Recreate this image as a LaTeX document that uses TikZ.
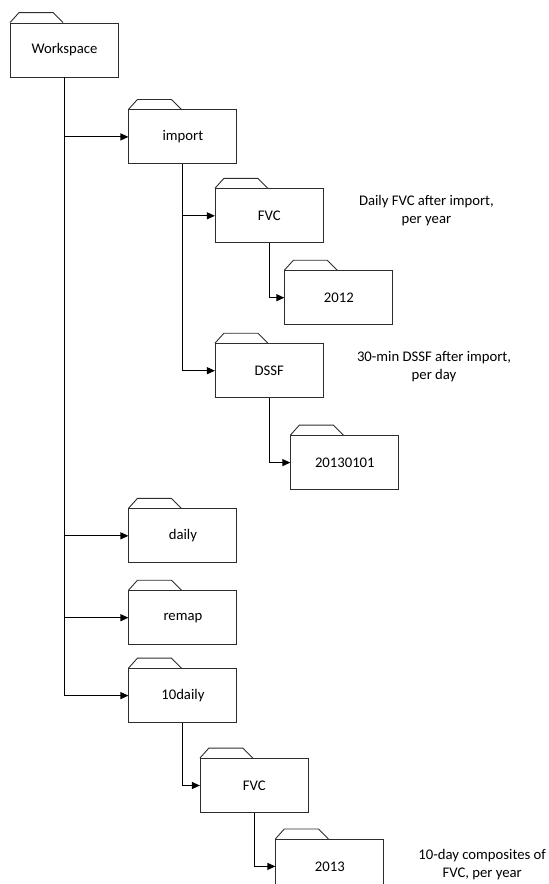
\documentclass[tikz,border=0pt]{standalone}
\usepackage{fontspec}
\setmainfont{Carlito}
\usepackage{tikz}
\usetikzlibrary{arrows.meta, positioning}
\definecolor{boxgray}{RGB}{45,45,45}

\begin{document}
\begin{tikzpicture}[
    x=1pt, y=1pt,
    folder/.style = {draw=boxgray, line width=0.9pt, rectangle,
                     minimum width=108pt, minimum height=54pt, inner sep=0pt,
                     font=\fontsize{14.7}{18}\selectfont},
    tab/.style    = {draw=boxgray, line width=0.9pt, line join=miter},
    note/.style   = {align=center, inner sep=0pt,
                     font=\fontsize{14.7}{18}\selectfont},
    arrow/.style  = {-{Triangle[length=8pt, width=7pt]}, line width=1.1pt, color=black}
  ]
  \useasboundingbox (0,0) rectangle (549,-884);

  \node[folder] (workspace) at (64.5,-50) {Workspace};
  \node[folder, below right=32pt and 9.5pt of workspace] (import) {import};
  \node[folder, below right=24pt and 32pt of import.south] (fvc) {FVC};
  \node[folder, below right=27pt and 15pt of fvc.south] (yr2012) {2012};
  \node[folder, below=100pt of fvc] (dssf) {DSSF};
  \node[folder, below right=37pt and 21pt of dssf.south] (day0101) {20130101};
  \node[folder, below=344pt of import] (daily) {daily};
  \node[folder, below=27pt of daily] (remap) {remap};
  \node[folder, below=23pt of remap] (tendaily) {10daily};
  \node[folder, below right=35pt and 17pt of tendaily.south] (fvcten) {FVC};
  \node[folder, below right=26pt and 21pt of fvcten.south] (yr2013) {2013};

  \node[note, right=35pt of fvc, yshift=5pt] (fvcnote)
                              {Daily FVC after import,\\per year};
  \node[note, right=33pt of dssf, yshift=4pt] (dssfnote)
                              {30-min DSSF after import,\\per day};
  \node[note, right=34pt of yr2013, yshift=2pt] (tennote)
                              {10-day composites of\\FVC, per year};

  \foreach \f in {workspace, import, fvc, yr2012, dssf, day0101,
                  daily, remap, tendaily, fvcten, yr2013}
    \draw[tab] (\f.north west) -- ++(9,10) -- ++(34,0) -- ++(10,-10);

  \draw[arrow] (workspace) |- (import);
  \draw[arrow] (workspace) |- (daily);
  \draw[arrow] (workspace) |- (remap);
  \draw[arrow] (workspace) |- (tendaily);
  \draw[arrow] (import)    |- (fvc);
  \draw[arrow] (import)    |- (dssf);
  \draw[arrow] (fvc)       |- (yr2012);
  \draw[arrow] (dssf)      |- (day0101);
  \draw[arrow] (tendaily)  |- (fvcten);
  \draw[arrow] (fvcten)    |- (yr2013);
\end{tikzpicture}
\end{document}
